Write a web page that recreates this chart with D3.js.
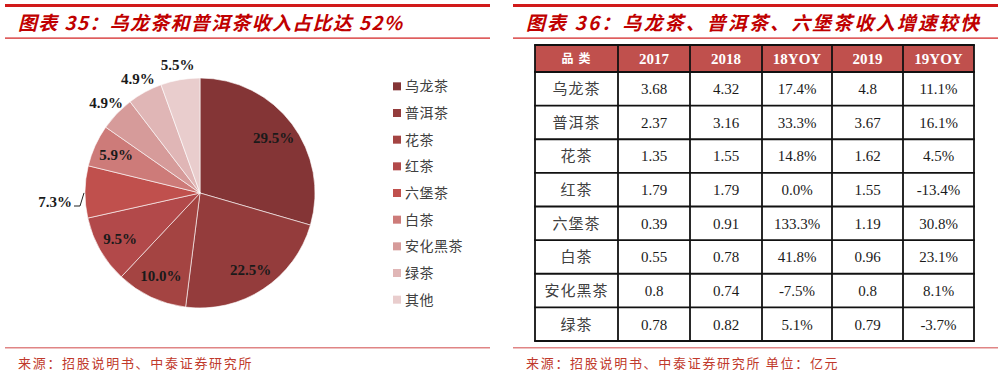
<!DOCTYPE html>
<html>
<head>
<meta charset="utf-8">
<script src="https://cdn.jsdelivr.net/npm/d3@7"></script>
<style>
  body { margin: 0; background: #fff; }
  svg { display: block; }
</style>
</head>
<body>
<svg id="chart" width="1000" height="375"></svg>
<script>
// 饼图数据
var pieCategories = ['乌龙茶', '普洱茶', '花茶', '红茶', '六堡茶', '白茶', '安化黑茶', '绿茶', '其他'];
var pieValues = [29.5, 22.5, 10.0, 9.5, 7.3, 5.9, 4.9, 4.9, 5.5];
var pieColors = ['#843536', '#943c3c', '#a44442', '#b2494a', '#c0504d', '#cd7b79', '#d69b9a', '#e0b6b6', '#e9cdcd'];

// 表格数据
var tableHeader = ['品类', '2017', '2018', '18YOY', '2019', '19YOY'];
var tableCategories = ['乌龙茶', '普洱茶', '花茶', '红茶', '六堡茶', '白茶', '安化黑茶', '绿茶'];
var rev2017 = ['3.68', '2.37', '1.35', '1.79', '0.39', '0.55', '0.8', '0.78'];
var rev2018 = ['4.32', '3.16', '1.55', '1.79', '0.91', '0.78', '0.74', '0.82'];
var yoy18 = ['17.4%', '33.3%', '14.8%', '0.0%', '133.3%', '41.8%', '-7.5%', '5.1%'];
var rev2019 = ['4.8', '3.67', '1.62', '1.55', '1.19', '0.96', '0.8', '0.79'];
var yoy19 = ['11.1%', '16.1%', '4.5%', '-13.4%', '30.8%', '23.1%', '8.1%', '-3.7%'];

var svg = d3.select('#chart');
var cjk = '"Noto Sans CJK SC", "Noto Sans", sans-serif';
var serif = '"Liberation Serif", "DejaVu Serif", serif';
var red = '#c00000';

// 标题和来源
function panelFrame(x0, x1, title, source, spacing) {
    svg.append('rect').attr('x', x0).attr('y', 4).attr('width', x1 - x0).attr('height', 3).attr('fill', '#d11a1a');
    svg.append('rect').attr('x', x0).attr('y', 37.5).attr('width', x1 - x0).attr('height', 1.2).attr('fill', '#d11a1a');
    svg.append('rect').attr('x', x0).attr('y', 347).attr('width', x1 - x0).attr('height', 1.5).attr('fill', '#e08585');
    svg.append('text')
        .attr('x', x0 + 13).attr('y', 30)
        .attr('font-family', cjk).attr('font-size', 19).attr('font-weight', 'bold')
        .attr('font-style', 'italic').attr('letter-spacing', spacing)
        .attr('fill', red)
        .text(title);
    svg.append('text')
        .attr('x', x0 + 13).attr('y', 368)
        .attr('font-family', cjk).attr('font-size', 13).attr('letter-spacing', 1.7)
        .attr('fill', '#c0392b')
        .text(source);
}
panelFrame(5, 490, '图表 35：乌龙茶和普洱茶收入占比达 52%', '来源：招股说明书、中泰证券研究所', 1.3);
panelFrame(513, 998, '图表 36：乌龙茶、普洱茶、六堡茶收入增速较快', '来源：招股说明书、中泰证券研究所 单位：亿元', 2.1);

// 饼图
var cx = 200, cy = 193, R = 115;
var pie = d3.pie().sort(null).value(function(d) { return d; });
var arcs = pie(pieValues);
var arc = d3.arc().innerRadius(0).outerRadius(R);
var g = svg.append('g').attr('transform', 'translate(' + cx + ',' + cy + ')');

g.selectAll('path')
    .data(arcs)
    .enter()
    .append('path')
    .attr('d', arc)
    .attr('fill', function(d, i) { return pieColors[i]; })
    .attr('stroke', '#fff')
    .attr('stroke-width', 0.6);

var innerLabel = d3.arc().innerRadius(R * 0.8).outerRadius(R * 0.8);
var outerLabel = d3.arc().innerRadius(R * 1.13).outerRadius(R * 1.13);

g.selectAll('text.lbl')
    .data(arcs)
    .enter()
    .append('text')
    .attr('class', 'lbl')
    .attr('transform', function(d, i) {
        var p;
        if (i >= 6) p = outerLabel.centroid(d);
        else if (i === 4) p = [-R - 30, 9];
        else p = innerLabel.centroid(d);
        return 'translate(' + p[0] + ',' + p[1] + ')';
    })
    .attr('text-anchor', 'middle')
    .attr('dy', '0.35em')
    .attr('font-family', serif).attr('font-weight', 'bold').attr('font-size', 15)
    .attr('fill', '#1a1a1a')
    .text(function(d) { return d.value.toFixed(1) + '%'; });

// 7.3% 引线
var a4 = (arcs[4].startAngle + arcs[4].endAngle) / 2;
var ex = Math.sin(a4) * R, ey = -Math.cos(a4) * R;
g.append('path')
    .attr('d', d3.line()([[-R - 11, 13], [-R - 5, 13], [ex - 1, ey + 1]]))
    .attr('fill', 'none').attr('stroke', '#222').attr('stroke-width', 1);

// 图例
var legendY = d3.scaleBand().domain(pieCategories).range([73, 313]);
var legend = svg.append('g');
legend.selectAll('rect')
    .data(pieCategories)
    .enter()
    .append('rect')
    .attr('x', 393)
    .attr('y', function(d) { return legendY(d) + legendY.bandwidth() / 2 - 4; })
    .attr('width', 8).attr('height', 8)
    .attr('fill', function(d, i) { return pieColors[i]; });
legend.selectAll('text')
    .data(pieCategories)
    .enter()
    .append('text')
    .attr('x', 405)
    .attr('y', function(d) { return legendY(d) + legendY.bandwidth() / 2; })
    .attr('dy', '0.36em')
    .attr('font-family', cjk).attr('font-size', 14).attr('letter-spacing', 0.5)
    .attr('fill', '#404040')
    .text(function(d) { return d; });

// 表格
var colEdges = [535, 618, 690, 762, 832, 903, 974];
var tableRight = colEdges[colEdges.length - 1];
var headerTop = 45, headerH = 27, tableBottom = 341;
var rowY = d3.scaleBand().domain(tableCategories).range([headerTop + headerH, tableBottom]);
var colMid = function(i) { return (colEdges[i] + colEdges[i + 1]) / 2; };

var rows = tableCategories.map(function(c, i) {
    return [c, rev2017[i], rev2018[i], yoy18[i], rev2019[i], yoy19[i]];
});

var table = svg.append('g');
table.append('rect')
    .attr('x', colEdges[0]).attr('y', headerTop)
    .attr('width', tableRight - colEdges[0]).attr('height', headerH)
    .attr('fill', '#c0504d');

table.selectAll('text.head')
    .data(tableHeader)
    .enter()
    .append('text')
    .attr('class', 'head')
    .attr('x', function(d, i) { return colMid(i) + (i === 0 ? 2 : 0); })
    .attr('y', headerTop + headerH / 2)
    .attr('dy', '0.36em')
    .attr('text-anchor', 'middle')
    .attr('font-family', function(d, i) { return i === 0 ? cjk : serif; })
    .attr('font-weight', 'bold')
    .attr('font-size', function(d, i) { return i === 0 ? 12 : 15; })
    .attr('letter-spacing', function(d, i) { return i === 0 ? 5 : 0; })
    .attr('fill', '#fff')
    .text(function(d) { return d; });

var rowG = table.selectAll('g.row')
    .data(rows)
    .enter()
    .append('g')
    .attr('class', 'row')
    .attr('transform', function(d) { return 'translate(0,' + (rowY(d[0]) + rowY.bandwidth() / 2) + ')'; });

rowG.selectAll('text')
    .data(function(d) { return d; })
    .enter()
    .append('text')
    .attr('x', function(d, i) { return colMid(i); })
    .attr('y', 0)
    .attr('dy', '0.36em')
    .attr('text-anchor', 'middle')
    .attr('font-family', function(d, i) { return i === 0 ? cjk : serif; })
    .attr('font-size', 15)
    .attr('letter-spacing', function(d, i) { return i === 0 ? 1 : 0; })
    .attr('fill', function(d, i) { return i === 0 ? '#404040' : '#1a1a1a'; })
    .text(function(d) { return d; });

// 表格线
var hLines = [headerTop, headerTop + headerH].concat(tableCategories.map(function(c) { return rowY(c) + rowY.bandwidth(); }));
table.selectAll('line.h')
    .data(hLines)
    .enter()
    .append('line')
    .attr('x1', colEdges[0] - 0.9).attr('x2', tableRight + 0.9)
    .attr('y1', function(d) { return d; }).attr('y2', function(d) { return d; })
    .attr('stroke', '#111').attr('stroke-width', 1.8);
table.selectAll('line.v')
    .data(colEdges)
    .enter()
    .append('line')
    .attr('x1', function(d) { return d; }).attr('x2', function(d) { return d; })
    .attr('y1', headerTop).attr('y2', tableBottom)
    .attr('stroke', '#111').attr('stroke-width', 1.8);
</script>
</body>
</html>
